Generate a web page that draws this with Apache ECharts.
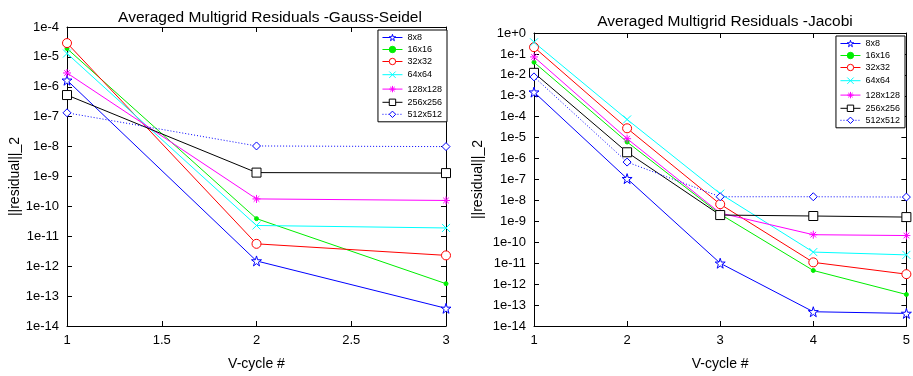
<!DOCTYPE html>
<html>
<head>
<meta charset="utf-8">
<script src="https://cdn.jsdelivr.net/npm/echarts@6/dist/echarts.min.js"></script>
<style>
  html, body { margin: 0; padding: 0; background: #fff; }
  #chart { width: 913px; height: 376px; }
</style>
</head>
<body>
<div id="chart"></div>
<script>
// Gauss-Seidel, V-cycles 1..3
const gsCycles = [1, 2, 3];
const gs8 = [1.66e-6, 1.5e-12, 3.9e-14];
const gs16 = [1.9e-5, 3.9e-11, 2.6e-13];
const gs32 = [2.9e-5, 5.6e-12, 2.3e-12];
const gs64 = [1.3e-5, 2.3e-11, 1.9e-11];
const gs128 = [2.9e-6, 1.78e-10, 1.58e-10];
const gs256 = [5.3e-7, 1.35e-9, 1.3e-9];
const gs512 = [1.35e-7, 1.05e-8, 1.0e-8];

// Jacobi, V-cycles 1..5
const jCycles = [1, 2, 3, 4, 5];
const j8 = [1.5e-3, 1.1e-7, 1.0e-11, 4.8e-14, 4.0e-14];
const j16 = [0.04, 6.2e-6, 2.2e-9, 4.5e-12, 3.2e-13];
const j32 = [0.21, 2.8e-5, 6.6e-9, 1.1e-11, 3.0e-12];
const j64 = [0.36, 7.4e-5, 2.1e-8, 3.4e-11, 2.5e-11];
const j128 = [0.072, 8.9e-6, 2.5e-9, 2.3e-10, 2.1e-10];
const j256 = [0.0125, 2.0e-6, 2.0e-9, 1.8e-9, 1.6e-9];
const j512 = [0.008, 6.8e-7, 1.5e-8, 1.5e-8, 1.45e-8];

const gridNames = ['8x8', '16x16', '32x32', '64x64', '128x128', '256x256', '512x512'];

const font = 'Liberation Sans, Arial, sans-serif';

const STAR = 'path://M50,0 L61,35 L98,35 L68,57 L79,91 L50,70 L21,91 L32,57 L2,35 L39,35 Z';
const XMARK = 'path://M0,0 L10,10 M10,0 L0,10';
const ASTER = 'path://M5,0 L5,10 M0,5 L10,5 M1.5,1.5 L8.5,8.5 M8.5,1.5 L1.5,8.5';

const styles = [
  { color: '#0000ff', symbol: STAR, size: 10, fill: '#fff' },
  { color: '#00ee00', symbol: 'circle', size: 4, fill: '#00ee00' },
  { color: '#ff0000', symbol: 'circle', size: 9, fill: '#fff' },
  { color: '#00ffff', symbol: XMARK, size: 8, fill: 'none' },
  { color: '#ff00ff', symbol: ASTER, size: 8, fill: 'none' },
  { color: '#000000', symbol: 'rect', size: 9, fill: '#fff' },
  { color: '#0000ff', symbol: 'diamond', size: 8, fill: '#fff', dotted: true },
];

const expLabel = (v) => {
  const e = Math.round(Math.log10(v));
  return e >= 0 ? `1e+${e}` : `1e${e}`;
};

function makeSeries(cycles, rows, xIndex, yIndex) {
  return rows.map((vals, i) => {
    const st = styles[i];
    return {
      name: gridNames[i],
      type: 'line',
      xAxisIndex: xIndex,
      yAxisIndex: yIndex,
      data: cycles.map((c, k) => [c, vals[k]]),
      symbol: st.symbol,
      symbolSize: st.size,
      showAllSymbol: true,
      lineStyle: { color: st.color, width: 1, type: st.dotted ? [1, 2] : 'solid' },
      itemStyle: { color: st.fill, borderColor: st.color, borderWidth: 1 },
      emphasis: { disabled: true },
      animation: false,
    };
  });
}

function xAxes(gridIndex, min, max, interval) {
  const common = {
    gridIndex, type: 'value', min, max, interval,
    axisLine: { show: true, lineStyle: { color: '#000', width: 1 } },
    axisTick: { show: true, inside: true, length: 5, lineStyle: { color: '#000' } },
    splitLine: { show: false },
  };
  return [
    {
      ...common, position: 'bottom',
      axisLabel: { color: '#000', fontSize: 13, fontFamily: font, margin: 8 },
      name: 'V-cycle #', nameLocation: 'middle', nameGap: 31,
      nameTextStyle: { color: '#000', fontSize: 14, fontFamily: font },
    },
    { ...common, position: 'top', axisLabel: { show: false } },
  ];
}

function yAxes(gridIndex, min, max, gap) {
  const common = {
    gridIndex, type: 'log', logBase: 10, min, max, interval: 1,
    axisLine: { show: true, lineStyle: { color: '#000', width: 1 } },
    axisTick: { show: true, inside: true, length: 5, lineStyle: { color: '#000' } },
    minorTick: { show: false },
    splitLine: { show: false },
  };
  return [
    {
      ...common, position: 'left',
      axisLabel: { color: '#000', fontSize: 13, fontFamily: font, margin: 8, formatter: expLabel },
      name: '||residual||_2', nameLocation: 'middle', nameGap: gap, nameRotate: 90,
      nameTextStyle: { color: '#000', fontSize: 14, fontFamily: font },
    },
    { ...common, position: 'right', axisLabel: { show: false } },
  ];
}

function legend(right, top) {
  return {
    orient: 'vertical', right, top,
    data: gridNames.map((name, i) => ({
      name,
      itemStyle: { color: styles[i].fill, borderColor: styles[i].color, borderWidth: 1 },
      lineStyle: { color: styles[i].color, width: 1, type: styles[i].dotted ? [1, 2] : 'solid' },
    })),
    backgroundColor: '#fff',
    borderColor: '#000', borderWidth: 1, borderRadius: 0,
    padding: [3, 5, 3, 4],
    itemGap: 3,
    itemWidth: 20, itemHeight: 8,
    textStyle: { color: '#000', fontSize: 9, fontFamily: font },
    selectedMode: false,
  };
}

const chart = echarts.init(document.getElementById('chart'));
const opt = {
  backgroundColor: '#fff',
  animation: false,
  title: [
    { text: 'Averaged Multigrid Residuals -Gauss-Seidel', left: 265, top: 5, textAlign: 'center',
      textStyle: { color: '#000', fontSize: 15.5, fontWeight: 'normal', fontFamily: font } },
    { text: 'Averaged Multigrid Residuals -Jacobi', left: 720, top: 9, textAlign: 'center',
      textStyle: { color: '#000', fontSize: 15.5, fontWeight: 'normal', fontFamily: font } },
  ],
  grid: [
    { left: 67, right: 467, top: 27, bottom: 49 },
    { left: 534, right: 6, top: 33, bottom: 49 },
  ],
  xAxis: [...xAxes(0, 1, 3, 0.5), ...xAxes(1, 1, 5, 1)],
  yAxis: [...yAxes(0, 1e-14, 1e-4, 40), ...yAxes(1, 1e-14, 1, 49)],
  legend: [legend(466, 30), legend(8, 36)],
  series: [
    ...makeSeries(gsCycles, [gs8, gs16, gs32, gs64, gs128, gs256, gs512], 0, 0),
    ...makeSeries(jCycles, [j8, j16, j32, j64, j128, j256, j512], 2, 2),
  ],
};
chart.setOption(opt);
</script>
</body>
</html>
